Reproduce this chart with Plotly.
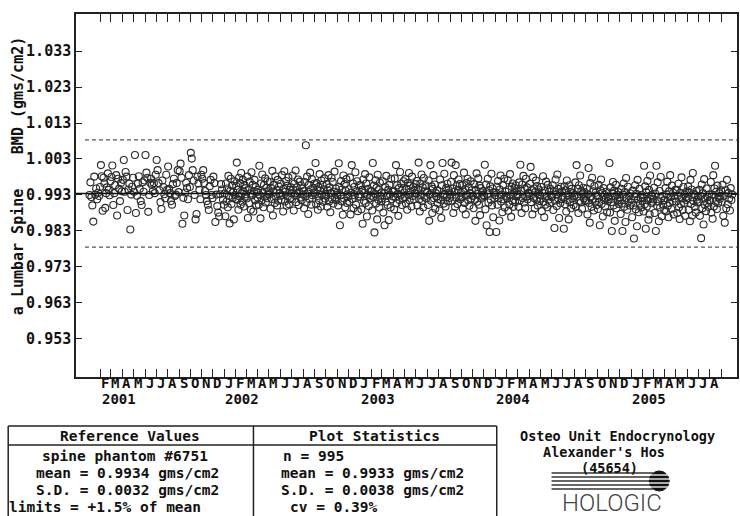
import pandas as pd
import plotly.graph_objects as go

# ---------------- data (BMD, gms/cm2), one list per month ----------------
bmd_2001 = [
    [0.9930, 0.9965, 0.9924, 0.9901, 0.9856, 0.9981, 0.9931, 0.9948, 0.9918, 0.9936, 0.9927, 0.9952],
    [1.0013, 0.9982, 0.9886, 0.9978, 0.9962, 0.9894, 0.9935, 0.9951, 0.9990, 0.9944, 0.9929, 0.9968],
    [0.9980, 1.0012, 0.9902, 0.9935, 0.9957, 0.9985, 0.9873, 0.9975, 0.9947, 0.9913, 0.9963, 0.9940],
    [0.9972, 1.0027, 0.9939, 0.9994, 0.9981, 0.9888, 0.9945, 0.9961, 0.9834, 0.9931, 0.9953, 0.9978],
    [0.9939, 1.0041, 0.9880, 0.9928, 0.9961, 0.9982, 0.9947, 0.9913, 0.9902, 0.9965, 0.9939, 0.9970],
    [1.0041, 0.9992, 0.9978, 0.9883, 0.9930, 0.9964, 0.9975, 0.9958, 0.9941, 0.9963, 0.9935, 0.9986],
    [1.0027, 0.9999, 0.9963, 0.9943, 0.9910, 0.9891, 0.9970, 0.9952, 0.9932, 0.9921, 0.9986, 0.9944],
    [1.0009, 0.9947, 0.9935, 0.9913, 0.9903, 0.9960, 0.9975, 0.9927, 0.9931, 0.9963, 0.9999, 0.9938],
    [0.9996, 1.0017, 0.9978, 0.9850, 0.9922, 0.9873, 0.9937, 0.9964, 0.9949, 0.9918, 0.9985, 0.9952],
    [1.0047, 1.0031, 0.9999, 0.9970, 0.9930, 0.9862, 0.9877, 0.9981, 0.9962, 0.9944, 0.9918, 0.9986],
    [0.9975, 0.9999, 0.9963, 0.9941, 0.9930, 0.9913, 0.9903, 0.9888, 0.9954, 0.9972, 0.9930, 0.9921],
    [0.9981, 0.9963, 0.9855, 0.9931, 0.9899, 0.9881, 0.9870, 0.9932, 0.9960, 0.9945, 0.9917, 0.9903],
]
bmd_2002 = [
    [0.9934, 0.9871, 0.9962, 0.9912, 0.9948, 0.9896, 0.9983, 0.9927, 0.9851, 0.9941, 0.9975, 0.9905, 0.9956, 0.9921, 0.9939, 0.9862, 0.9968, 0.9930, 0.9919],
    [0.9955, 1.0020, 0.9917, 0.9944, 0.9889, 0.9978, 0.9926, 0.9963, 0.9903, 0.9991, 0.9935, 0.9911, 0.9972, 0.9940, 0.9898, 0.9958, 0.9925, 0.9949, 0.9932],
    [0.9920, 0.9981, 0.9866, 0.9946, 0.9907, 0.9967, 0.9934, 0.9889, 0.9993, 0.9929, 0.9958, 0.9884, 0.9941, 0.9972, 0.9915, 0.9952, 0.9901, 0.9938, 0.9923],
    [0.9944, 0.9903, 1.0011, 0.9929, 0.9865, 0.9962, 0.9915, 0.9987, 0.9937, 0.9896, 0.9958, 0.9925, 0.9976, 0.9909, 0.9950, 0.9921, 0.9968, 0.9932, 0.9940],
    [0.9931, 0.9966, 0.9892, 0.9949, 0.9919, 0.9997, 0.9873, 0.9938, 0.9958, 0.9908, 0.9982, 0.9926, 0.9943, 0.9901, 0.9972, 0.9914, 0.9953, 0.9935, 0.9928],
    [0.9961, 0.9917, 0.9985, 0.9930, 0.9884, 0.9947, 0.9996, 0.9912, 0.9939, 0.9969, 0.9900, 0.9956, 0.9926, 0.9979, 0.9904, 0.9944, 0.9921, 0.9951, 0.9935],
    [0.9918, 0.9984, 0.9945, 0.9887, 0.9961, 0.9929, 0.9998, 0.9910, 0.9951, 0.9935, 0.9973, 0.9902, 0.9938, 0.9967, 0.9923, 0.9957, 0.9915, 0.9948, 0.9932],
    [0.9941, 0.9893, 0.9966, 0.9926, 1.0068, 0.9909, 0.9981, 0.9934, 0.9877, 0.9958, 0.9919, 0.9992, 0.9945, 0.9903, 0.9974, 0.9929, 0.9950, 0.9937, 0.9961],
    [0.9936, 1.0019, 0.9904, 0.9963, 0.9927, 0.9889, 0.9952, 0.9915, 0.9988, 0.9942, 0.9898, 0.9970, 0.9931, 0.9958, 0.9911, 0.9946, 0.9976, 0.9920, 0.9933],
    [0.9928, 0.9960, 0.9897, 0.9943, 0.9985, 0.9912, 0.9951, 0.9882, 0.9935, 0.9978, 0.9918, 0.9966, 0.9906, 0.9939, 0.9995, 0.9922, 0.9948, 0.9915, 0.9930],
    [0.9937, 0.9901, 1.0018, 0.9953, 0.9846, 0.9929, 0.9969, 0.9912, 0.9945, 0.9875, 0.9984, 0.9920, 0.9960, 0.9896, 0.9941, 0.9974, 0.9908, 0.9932, 0.9924],
    [0.9946, 0.9911, 0.9979, 0.9876, 0.9936, 1.0013, 0.9919, 0.9962, 0.9893, 0.9952, 0.9929, 0.9993, 0.9903, 0.9940, 0.9968, 0.9885, 0.9925, 0.9957, 0.9932],
]
bmd_2003 = [
    [0.9925, 0.9957, 0.9890, 0.9944, 0.9850, 0.9973, 0.9914, 0.9936, 0.9988, 0.9908, 0.9962, 0.9870, 0.9930, 0.9947, 0.9899, 0.9979, 0.9921, 0.9941, 0.9928],
    [0.9940, 0.9887, 1.0019, 0.9924, 0.9956, 0.9826, 0.9933, 0.9971, 0.9906, 0.9950, 0.9862, 0.9986, 0.9917, 0.9945, 0.9895, 0.9964, 0.9928, 0.9912, 0.9937],
    [0.9920, 0.9968, 0.9881, 0.9936, 0.9846, 0.9952, 0.9911, 0.9983, 0.9927, 0.9902, 0.9944, 0.9860, 0.9958, 0.9931, 0.9895, 0.9975, 0.9918, 0.9939, 0.9926],
    [0.9940, 0.9890, 0.9976, 0.9924, 1.0013, 0.9907, 0.9957, 0.9933, 0.9872, 0.9949, 0.9916, 0.9994, 0.9929, 0.9961, 0.9902, 0.9945, 0.9920, 0.9968, 0.9937],
    [0.9923, 0.9974, 0.9906, 0.9947, 0.9889, 0.9963, 0.9930, 0.9991, 0.9915, 0.9956, 0.9939, 0.9898, 0.9981, 0.9927, 0.9952, 0.9918, 0.9944, 0.9934, 0.9960],
    [0.9934, 0.9969, 0.9901, 0.9946, 1.0020, 0.9918, 0.9884, 0.9962, 0.9929, 0.9987, 0.9913, 0.9951, 0.9896, 0.9977, 0.9925, 0.9940, 0.9957, 0.9921, 0.9937],
    [0.9938, 0.9902, 0.9970, 0.9858, 0.9931, 1.0013, 0.9914, 0.9954, 0.9880, 0.9947, 0.9985, 0.9921, 0.9959, 0.9892, 0.9935, 0.9926, 0.9943, 0.9908, 0.9919],
    [0.9941, 0.9887, 0.9973, 0.9916, 0.9866, 0.9957, 1.0019, 0.9929, 0.9906, 0.9989, 0.9933, 0.9898, 0.9949, 0.9924, 0.9961, 0.9912, 0.9944, 0.9937, 0.9922],
    [0.9931, 0.9966, 1.0020, 0.9914, 0.9948, 0.9880, 0.9985, 0.9939, 0.9897, 1.0013, 0.9922, 0.9955, 0.9905, 0.9944, 0.9973, 0.9927, 0.9960, 0.9918, 0.9936],
    [0.9924, 0.9957, 0.9892, 0.9940, 0.9992, 0.9908, 0.9946, 0.9876, 0.9963, 0.9930, 0.9975, 0.9915, 0.9951, 0.9900, 0.9935, 0.9968, 0.9920, 0.9943, 0.9928],
    [0.9928, 0.9893, 0.9960, 0.9917, 0.9858, 0.9944, 0.9990, 0.9911, 0.9933, 0.9976, 0.9903, 0.9956, 0.9874, 0.9949, 0.9920, 0.9937, 0.9925, 0.9941, 0.9930],
    [0.9927, 1.0014, 0.9890, 0.9959, 0.9846, 0.9932, 0.9975, 0.9909, 0.9943, 0.9827, 0.9954, 0.9916, 0.9989, 0.9901, 0.9948, 0.9868, 0.9936, 0.9921, 0.9929],
]
bmd_2004 = [
    [0.9937, 0.9827, 0.9953, 0.9903, 0.9969, 0.9921, 0.9859, 0.9945, 0.9984, 0.9912, 0.9931, 0.9882, 0.9958, 0.9918, 0.9975, 0.9895, 0.9940, 0.9928, 0.9925],
    [0.9920, 0.9971, 0.9886, 0.9945, 0.9903, 0.9988, 0.9929, 0.9869, 0.9953, 0.9914, 0.9962, 0.9897, 0.9936, 0.9949, 0.9910, 0.9957, 0.9926, 0.9941, 0.9933],
    [0.9930, 0.9897, 0.9965, 0.9914, 1.0014, 0.9942, 0.9880, 0.9959, 0.9921, 0.9983, 0.9909, 0.9947, 0.9893, 0.9975, 0.9926, 0.9951, 0.9918, 0.9936, 0.9933],
    [0.9927, 0.9961, 1.0008, 0.9910, 0.9943, 0.9876, 0.9979, 0.9922, 0.9948, 0.9893, 0.9938, 0.9970, 0.9916, 0.9955, 0.9901, 0.9932, 0.9945, 0.9913, 0.9929],
    [0.9920, 0.9952, 0.9885, 0.9936, 0.9982, 0.9911, 0.9868, 0.9943, 0.9903, 0.9967, 0.9927, 0.9896, 0.9958, 0.9917, 0.9939, 0.9908, 0.9947, 0.9930, 0.9924],
    [0.9925, 0.9957, 0.9888, 0.9941, 0.9838, 0.9914, 0.9973, 0.9931, 0.9899, 0.9987, 0.9921, 0.9947, 0.9866, 0.9936, 0.9907, 0.9953, 0.9918, 0.9940, 0.9928],
    [0.9922, 0.9836, 0.9954, 0.9904, 0.9943, 0.9884, 0.9970, 0.9916, 0.9930, 0.9862, 0.9957, 0.9910, 0.9938, 0.9893, 0.9947, 0.9920, 0.9935, 0.9902, 0.9926],
    [0.9930, 0.9965, 0.9897, 1.0013, 0.9925, 0.9947, 0.9880, 0.9957, 0.9914, 0.9984, 0.9909, 0.9941, 0.9892, 0.9934, 0.9950, 0.9920, 0.9938, 0.9913, 0.9928],
    [0.9915, 0.9948, 0.9876, 0.9932, 1.0005, 0.9908, 0.9853, 0.9963, 0.9924, 0.9897, 0.9978, 0.9919, 0.9940, 0.9887, 0.9955, 0.9911, 0.9936, 0.9929, 0.9902],
    [0.9927, 0.9891, 0.9958, 0.9910, 0.9846, 0.9943, 0.9973, 0.9905, 0.9936, 0.9870, 0.9949, 0.9916, 0.9930, 0.9898, 0.9921, 0.9939, 0.9882, 0.9913, 0.9924],
    [0.9919, 1.0019, 0.9881, 0.9951, 0.9910, 0.9830, 0.9935, 0.9966, 0.9901, 0.9942, 0.9858, 0.9926, 0.9958, 0.9893, 0.9930, 0.9915, 0.9938, 0.9905, 0.9922],
    [0.9915, 0.9877, 0.9947, 0.9906, 0.9830, 0.9931, 0.9962, 0.9897, 0.9938, 0.9855, 0.9977, 0.9922, 0.9889, 0.9953, 0.9912, 0.9927, 0.9901, 0.9934, 0.9918],
]
bmd_2005 = [
    [0.9909, 0.9868, 0.9942, 0.9901, 0.9809, 0.9926, 0.9957, 0.9890, 0.9933, 0.9843, 0.9972, 0.9918, 0.9882, 0.9947, 0.9906, 0.9922, 0.9895, 0.9930, 0.9913],
    [0.9922, 0.9884, 1.0011, 0.9904, 0.9954, 0.9836, 0.9938, 0.9898, 0.9969, 0.9915, 0.9861, 0.9944, 0.9876, 0.9984, 0.9919, 0.9930, 0.9907, 0.9926, 0.9911],
    [0.9918, 0.9950, 0.9880, 0.9934, 0.9830, 1.0011, 0.9900, 0.9965, 0.9912, 0.9857, 0.9941, 0.9895, 0.9980, 0.9921, 0.9871, 0.9927, 0.9903, 0.9915, 0.9888],
    [0.9916, 0.9949, 0.9884, 0.9932, 0.9967, 0.9900, 0.9868, 0.9940, 0.9908, 0.9985, 0.9924, 0.9891, 0.9956, 0.9912, 0.9936, 0.9876, 0.9928, 0.9920, 0.9944],
    [0.9912, 0.9944, 0.9880, 0.9928, 0.9961, 0.9896, 0.9863, 0.9936, 0.9904, 0.9979, 0.9920, 0.9888, 0.9952, 0.9908, 0.9931, 0.9872, 0.9924, 0.9916, 0.9940],
    [0.9921, 0.9954, 0.9889, 0.9937, 0.9857, 0.9972, 0.9905, 0.9945, 0.9873, 0.9991, 0.9913, 0.9933, 0.9897, 0.9929, 0.9881, 0.9941, 0.9917, 0.9909, 0.9925],
    [0.9911, 0.9944, 0.9872, 0.9928, 0.9810, 0.9959, 0.9893, 0.9935, 0.9848, 0.9974, 0.9903, 0.9920, 0.9885, 0.9948, 0.9908, 0.9924, 0.9897, 0.9931, 0.9915],
    [0.9915, 0.9966, 0.9881, 0.9931, 0.9864, 0.9985, 0.9898, 0.9948, 1.0011, 0.9912, 0.9939, 0.9891, 0.9956, 0.9907, 0.9923, 0.9935, 0.9919, 0.9927, 0.9943],
    [0.9911, 0.9958, 0.9872, 0.9928, 0.9853, 0.9943, 0.9893, 0.9972, 0.9904, 0.9935, 0.9920, 0.9887, 0.9949, 0.9916, 0.9931],
]
years = [2001, 2002, 2003, 2004, 2005]
yearly = [bmd_2001, bmd_2002, bmd_2003, bmd_2004, bmd_2005]

ref_mean = 0.9934
limit_pct = 1.5
y_ticks = [0.953, 0.963, 0.973, 0.983, 0.993, 1.003, 1.013, 1.023, 1.033]
month_letters = ["J", "F", "M", "A", "M", "J", "J", "A", "S", "O", "N", "D"]

# ---------------- build trace ----------------
xs, ys = [], []
for yr, months in zip(years, yearly):
    for mi, vals in enumerate(months):
        start = pd.Timestamp(yr, mi + 1, 1)
        ndays = start.days_in_month
        for i, v in enumerate(vals):
            xs.append(start + pd.Timedelta(days=(i + 0.5) * ndays / len(vals)))
            ys.append(v)

tick_dates = pd.date_range("2001-02-01", "2005-09-01", freq="MS")
label_dates = tick_dates[:-1]

FONT = "DejaVu Sans Mono"
W, H = 740, 516
L, R, T, B = 76, 1, 14, 139
PW, PH = W - L - R, H - T - B


def fx(px):
    return (px - L) / PW


def fy(py):
    return (H - B - py) / PH


fig = go.Figure()
fig.add_trace(go.Scatter(
    x=xs, y=ys, mode="markers",
    marker=dict(symbol="circle-open", size=7, color="#2a2a2a", line=dict(width=1.1)),
    hoverinfo="x+y", showlegend=False,
))

upper = ref_mean * (1 + limit_pct / 100)
lower = ref_mean * (1 - limit_pct / 100)

shapes = [
    dict(type="line", xref="paper", yref="y", x0=0, x1=1, y0=ref_mean, y1=ref_mean,
         line=dict(color="#111111", width=1.6)),
    dict(type="line", xref="paper", yref="y", x0=fx(85), x1=1, y0=upper, y1=upper,
         line=dict(color="#555555", width=1.2, dash="4px,3px")),
    dict(type="line", xref="paper", yref="y", x0=fx(85), x1=1, y0=lower, y1=lower,
         line=dict(color="#555555", width=1.2, dash="4px,3px")),
]

# footer table
box_line = dict(color="#222222", width=1.5)
shapes += [
    dict(type="line", xref="paper", yref="paper", x0=fx(8), x1=fx(498), y0=fy(426), y1=fy(426), line=box_line),
    dict(type="line", xref="paper", yref="paper", x0=fx(8), x1=fx(498), y0=fy(445), y1=fy(445), line=box_line),
    dict(type="line", xref="paper", yref="paper", x0=fx(8), x1=fx(8), y0=fy(426), y1=fy(530), line=box_line),
    dict(type="line", xref="paper", yref="paper", x0=fx(254), x1=fx(254), y0=fy(426), y1=fy(530), line=box_line),
    dict(type="line", xref="paper", yref="paper", x0=fx(498), x1=fx(498), y0=fy(426), y1=fy(530), line=box_line),
]

# Hologic logo
for ly in [473, 477, 481, 485, 489]:
    shapes.append(dict(type="line", xref="paper", yref="paper", x0=fx(553), x1=fx(655),
                       y0=fy(ly), y1=fy(ly), line=dict(color="#333333", width=1.3)))
shapes.append(dict(type="circle", xref="paper", yref="paper", x0=fx(651), x1=fx(671),
                   y0=fy(471), y1=fy(491), fillcolor="#111111", line=dict(color="#111111", width=1)))
for ly in [475, 479, 483, 487]:
    shapes.append(dict(type="line", xref="paper", yref="paper", x0=fx(650), x1=fx(672),
                       y0=fy(ly), y1=fy(ly), line=dict(color="white", width=1.3)))

tf = dict(family=FONT, size=15, color="#111111", weight="bold")
ann = []


def txt(s, px, py, anchor="left", size=14.5):
    f = dict(tf)
    f["size"] = size
    ann.append(dict(text=s, x=fx(px), y=fy(py), xref="paper", yref="paper",
                    xanchor=anchor, yanchor="middle", showarrow=False, font=f, borderpad=0))


txt("Reference Values", 130, 436, "center")
txt("Plot Statistics", 375, 436, "center")
txt("spine phantom #6751", 41, 456)
txt("mean = 0.9934 gms/cm2", 35, 473)
txt("S.D. = 0.0032 gms/cm2", 35, 490)
txt("limits = +1.5% of mean", 8, 507)
txt("n = 995", 283, 456)
txt("mean = 0.9933 gms/cm2", 281, 473)
txt("S.D. = 0.0038 gms/cm2", 281, 490)
txt("cv = 0.39%", 290, 507)
txt("Osteo Unit Endocrynology", 619, 436, "center", 13.5)
txt("Alexander's Hos", 606, 452, "center", 13.5)
txt("(45654)", 611, 467.5, "center", 13.5)

ann.append(dict(text="HOLOGIC", x=fx(614), y=fy(503), xref="paper", yref="paper",
                xanchor="center", yanchor="middle", showarrow=False,
                font=dict(family="Roboto", size=24, color="#444444", weight=300)))

# y-axis title (rotated)
for s, cy in [("a Lumbar Spine", 252), ("BMD (gms/cm2)", 96)]:
    ann.append(dict(text=s, x=fx(18), y=fy(cy), xref="paper", yref="paper", textangle=-90,
                    xanchor="center", yanchor="middle", showarrow=False, font=tf))

# month letters (one per month, on the date scale) and year labels
mf = dict(tf)
mf["size"] = 14
for d in label_dates:
    ann.append(dict(text=month_letters[d.month - 1], x=d, y=fy(383), xref="x", yref="paper",
                    xanchor="center", yanchor="middle", xshift=4.5, showarrow=False,
                    font=mf, borderpad=0))
for yr in years:
    d = pd.Timestamp(yr, 2 if yr == 2001 else 1, 1)
    ann.append(dict(text=str(yr), x=d, y=fy(399), xref="x", yref="paper", xanchor="left",
                    yanchor="middle", xshift=0, showarrow=False, font=mf, borderpad=0))

fig.update_layout(
    width=W, height=H,
    margin=dict(l=L, r=R, t=T, b=B, pad=0),
    paper_bgcolor="white", plot_bgcolor="white",
    shapes=shapes, annotations=ann,
    xaxis=dict(
        type="date", range=["2000-11-27", "2005-10-13"],
        tickvals=list(tick_dates), showticklabels=False,
        ticks="inside", ticklen=8, tickwidth=1.2, tickcolor="#222222",
        showline=True, linecolor="#222222", linewidth=1.5, mirror="ticks",
        showgrid=False, zeroline=False,
    ),
    yaxis=dict(
        range=[0.9424, 1.0433],
        tickvals=y_ticks, ticktext=[f"{v:.3f}" for v in y_ticks],
        ticks="inside", ticklen=6, tickwidth=1.2, tickcolor="#222222",
        showline=True, linecolor="#222222", linewidth=1.5, mirror="ticks",
        showgrid=False, zeroline=False,
        tickfont=tf,
    ),
    showlegend=False,
)

fig.write_html("out.html", config={"displayModeBar": False},
               post_script="document.body.style.margin='0';document.body.style.overflow='hidden';")
